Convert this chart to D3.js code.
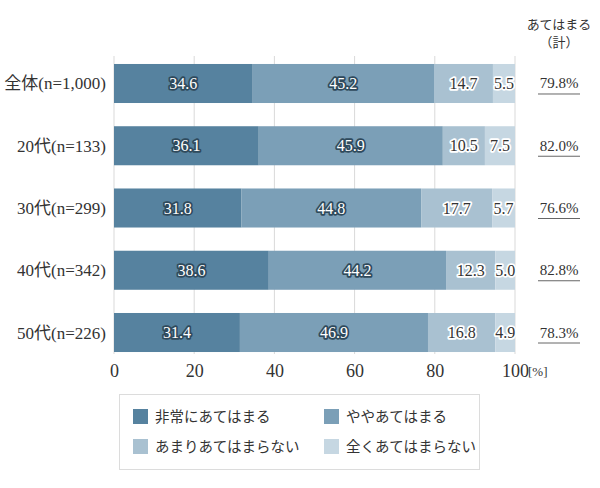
<!DOCTYPE html>
<html><head><meta charset="utf-8">
<script src="https://cdn.jsdelivr.net/npm/d3@7"></script>
<style>
body{margin:0;background:#fff;}
text{font-family:"Liberation Serif","DejaVu Serif","Noto Sans CJK JP",serif;}
</style></head>
<body><svg id="c" width="600" height="488"></svg>
<script>
const categories = ["全体(n=1,000)","20代(n=133)","30代(n=299)","40代(n=342)","50代(n=226)"];
const seriesNames = ["非常にあてはまる","ややあてはまる","あまりあてはまらない","全くあてはまらない"];
const s1 = [34.6,36.1,31.8,38.6,31.4];
const s2 = [45.2,45.9,44.8,44.2,46.9];
const s3 = [14.7,10.5,17.7,12.3,16.8];
const s4 = [5.5,7.5,5.7,5.0,4.9];
const totals = ["79.8%","82.0%","76.6%","82.8%","78.3%"];
const xTicks = [0,20,40,60,80,100];
const colors = ["#56829f","#7b9fb7","#a9c1d1","#c6d7e2"];
const series = [s1,s2,s3,s4];

const svg = d3.select("#c");
const x = d3.scaleLinear().domain([0,100]).range([114,515]);
const y = d3.scaleBand().domain(categories).range([52.4,363.6]).paddingInner(0.373).paddingOuter(0.186);

// grid
svg.append("g").selectAll("line").data(xTicks).join("line")
  .attr("x1",d=>x(d)).attr("x2",d=>x(d)).attr("y1",56).attr("y2",354)
  .attr("stroke","#d9d9d9").attr("stroke-width",1);

// bars
const rows = categories.map((c,i)=>{
  let acc=0;
  return series.map((s,k)=>{const o={cat:c,k,v:s[i],x0:acc,x1:acc+s[i]};acc+=s[i];return o;});
});
const flat = rows.flat();
svg.append("g").selectAll("rect").data(flat).join("rect")
  .attr("x",d=>x(d.x0)).attr("width",d=>x(Math.min(d.x1,100))-x(d.x0))
  .attr("y",d=>y(d.cat)).attr("height",y.bandwidth())
  .attr("fill",d=>colors[d.k]);

// value labels
svg.append("g").selectAll("text").data(flat).join("text")
  .attr("x",d=>x((d.x0+Math.min(d.x1,100))/2))
  .attr("y",d=>y(d.cat)+y.bandwidth()/2+5.5)
  .attr("text-anchor","middle").attr("font-size",16)
  .attr("fill",d=>d.k<2?"#fff":"#333")
  .attr("stroke",d=>d.k<2?"#2f4a5c":"#fff")
  .attr("stroke-width",3.5).attr("paint-order","stroke").attr("stroke-linejoin","round")
  .text(d=>d.v.toFixed(1));

// category labels
svg.append("g").selectAll("text").data(categories).join("text")
  .attr("x",106).attr("y",d=>y(d)+y.bandwidth()/2+6)
  .attr("text-anchor","end").attr("font-size",17).attr("fill","#333")
  .text(d=>d);

// totals
const tg = svg.append("g");
tg.selectAll("text").data(categories).join("text")
  .attr("x",559).attr("y",(d,i)=>y(d)+y.bandwidth()/2+5)
  .attr("text-anchor","middle").attr("font-size",15).attr("fill","#333")
  .text((d,i)=>totals[i]);
tg.selectAll("line").data(categories).join("line")
  .attr("x1",538).attr("x2",580)
  .attr("y1",d=>y(d)+y.bandwidth()/2+10.5).attr("y2",d=>y(d)+y.bandwidth()/2+10.5)
  .attr("stroke","#666").attr("stroke-width",1);
svg.append("text").attr("x",559).attr("y",29).attr("text-anchor","middle")
  .attr("font-size",13).attr("fill","#333").text("あてはまる");
svg.append("text").attr("x",559).attr("y",47).attr("text-anchor","middle")
  .attr("font-size",13).attr("fill","#333").text("（計）");

// x axis
const ax = svg.append("g").attr("transform","translate(0,354)")
  .call(d3.axisBottom(x).tickValues(xTicks).tickSize(0).tickPadding(10));
ax.select(".domain").remove();
ax.selectAll("text").attr("font-size",18).attr("fill","#333")
  .attr("font-family","'Liberation Serif','DejaVu Serif',serif");
svg.append("text").attr("x",528).attr("y",376).attr("font-size",13).attr("fill","#333").text("[%]");

// legend
svg.append("rect").attr("x",119.5).attr("y",394.5).attr("width",360).attr("height",75)
  .attr("fill","#fff").attr("stroke","#dcdcdc");
const lg = svg.append("g").selectAll("g").data(seriesNames).join("g")
  .attr("transform",(d,i)=>`translate(${i%2===0?133:324},${i<2?409:439})`);
lg.append("rect").attr("width",15).attr("height",15).attr("fill",(d,i)=>colors[i]);
lg.append("text").attr("x",22).attr("y",13).attr("font-size",14.5).attr("fill","#333").text(d=>d);
</script></body></html>
